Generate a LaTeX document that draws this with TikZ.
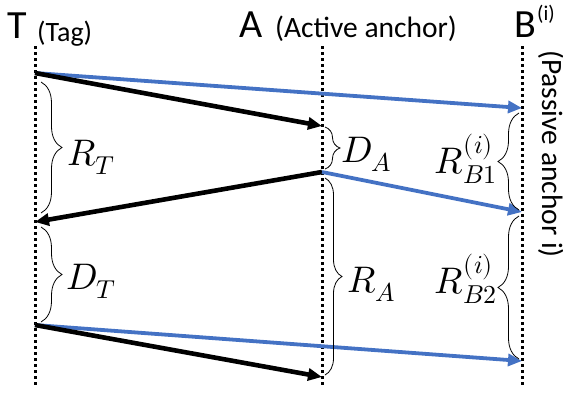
\documentclass[tikz,border=0pt]{standalone}
\usepackage{fontspec}
\usepackage{unicode-math}
\setmainfont{Carlito}
\setmathfont{Latin Modern Math}
\usetikzlibrary{arrows.meta,decorations.pathreplacing}
\definecolor{obl}{RGB}{68,114,196}
\begin{document}
\begin{tikzpicture}[x=1pt,y=-1pt,
  lifeline/.style={line width=3pt, dash pattern=on 3pt off 3pt},
  blk/.style={line width=4.6pt, -{Triangle[length=14pt,width=12pt]}},
  blu/.style={line width=3.8pt, draw=obl, -{Triangle[length=14pt,width=12pt]}, fill=obl},
  brc/.style={decorate, decoration={brace, amplitude=#1}, line width=0.8pt},
  big/.style={inner sep=0pt, font=\fontsize{40}{44}\selectfont},
  mid/.style={inner sep=0pt, font=\fontsize{29.5}{33}\selectfont},
  sml/.style={inner sep=0pt, font=\fontsize{28}{30}\selectfont},
  sup/.style={inner sep=0pt, font=\fontsize{21}{24}\selectfont},
  mlab/.style={inner sep=0pt, font=\fontsize{37}{42}\selectfont}]
\useasboundingbox (0,0) rectangle (563,394);
% lifelines
\coordinate (tT) at (35,46);  \coordinate (tB) at (35,387);
\coordinate (aT) at (322,46); \coordinate (aB) at (322,387);
\coordinate (bT) at (522,46); \coordinate (bB) at (522,387);
\draw[lifeline] (tT) -- (tB);
\draw[lifeline] (aT) -- (aB);
\draw[lifeline] (bT) -- (bB);
% events
\coordinate (t1) at (35,73);
\coordinate (a1) at (322,126);
\coordinate (b1) at (522,108);
\coordinate (a2) at (322,172);
\coordinate (t2) at (35,222);
\coordinate (b2) at (522,212);
\coordinate (t3) at (35,325);
\coordinate (a3) at (322,377);
\coordinate (b3) at (522,361);
% messages
\draw[blu] (t1) -- (b1);
\draw[blk] (t1) -- (a1);
\draw[blk] (a2) -- (t2);
\draw[blu] (a2) -- (b2);
\draw[blu] (t3) -- (b3);
\draw[blk] (t3) -- (a3);
% braces
\coordinate (rt1) at (41,82);  \coordinate (rt2) at (41,213);
\coordinate (dt1) at (41,227); \coordinate (dt2) at (41,322);
\coordinate (da1) at (325,127); \coordinate (da2) at (325,169);
\coordinate (ra1) at (325,178); \coordinate (ra2) at (325,375);
\coordinate (rb11) at (519,113); \coordinate (rb12) at (519,210);
\coordinate (rb21) at (519,216); \coordinate (rb22) at (519,359);
\draw[brc=21] (rt1) -- (rt2);
\draw[brc=21] (dt1) -- (dt2);
\draw[brc=15] (da1) -- (da2);
\draw[brc=17] (ra1) -- (ra2);
\draw[brc=21] (rb12) -- (rb11);
\draw[brc=21] (rb22) -- (rb21);
% math labels
\node[mlab, anchor=base west] (lrt) at (67,165) {$R_T$};
\node[mlab, anchor=base west] (ldt) at (66,289) {$D_T$};
\node[mlab, anchor=base west] (lda) at (341,162) {$D_A$};
\node[mlab, anchor=base west] (lra) at (347,292) {$R_A$};
\node[mlab, anchor=base east] (lrb1) at (497,173) {$R_{B1}^{(i)}$};
\node[mlab, anchor=base east] (lrb2) at (497,293) {$R_{B2}^{(i)}$};
% titles
\node[big, anchor=base west] (tt) at (7,38) {T};
\node[sml, anchor=base west] (ttag) at (37,41) {(Tag)};
\node[big, anchor=base west] (at) at (239,37) {A};
\node[mid, anchor=base west] (aact) at (275,37) {(Active anchor)};
\node[big, anchor=base west] (bt) at (514,37) {B};
\node[sup, anchor=base west] (bsup) at (537,20) {(i)};
\node[mid, anchor=base west, rotate=-90] (bpas) at (542,50) {(Passive anchor i)};
\end{tikzpicture}
\end{document}
